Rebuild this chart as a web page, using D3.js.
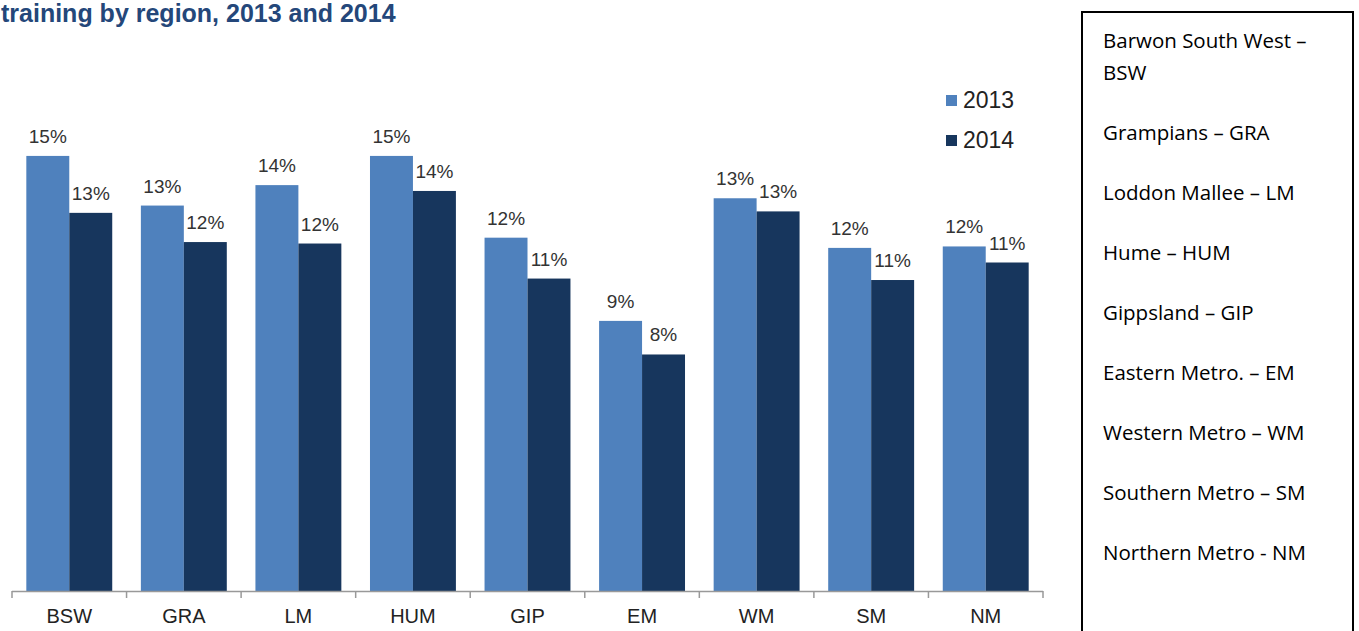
<!DOCTYPE html>
<html lang="en">
<head>
    <meta charset="UTF-8">
    <title>Training by region</title>
    <script src="https://d3js.org/d3.v7.min.js"></script>
    <style>
        body { margin: 0; background: #fff; }
        svg { display: block; }
    </style>
</head>
<body>
<svg id="chart"></svg>
<script>

    // data
    const regions = ["BSW", "GRA", "LM", "HUM", "GIP", "EM", "WM", "SM", "NM"];
    const years = ["2013", "2014"];
    const values2013 = [14.9, 13.2, 13.9, 14.9, 12.1, 9.25, 13.45, 11.75, 11.8];
    const values2014 = [12.95, 11.95, 11.9, 13.7, 10.7, 8.1, 13.0, 10.65, 11.25];
    const regionNames = [
        ["Barwon South West –", "BSW"],
        ["Grampians – GRA"],
        ["Loddon Mallee – LM"],
        ["Hume – HUM"],
        ["Gippsland – GIP"],
        ["Eastern Metro. – EM"],
        ["Western Metro – WM"],
        ["Southern Metro – SM"],
        ["Northern Metro - NM"]
    ];

    const width = 1359, height = 631;
    const font = "Liberation Sans, Arial, sans-serif";
    const colour = d3.scaleOrdinal().domain(years).range(["#4f81bd", "#17365d"]);

    const svg = d3.select("#chart").attr("width", width).attr("height", height);

    svg.append("text")
        .attr("x", 1).attr("y", 22)
        .attr("font-family", font)
        .attr("font-weight", "bold")
        .attr("font-size", 25)
        .attr("fill", "#24477a")
        .text("training by region, 2013 and 2014");

    const baseY = 591;
    const x = d3.scaleBand().domain(regions).range([12, 1043]).paddingInner(0.25).paddingOuter(0.125);
    const x1 = d3.scaleBand().domain(years).range([0, x.bandwidth()]);
    const y = d3.scaleLinear().domain([0, 16]).range([baseY, baseY - 16 * 29.2]);

    const rows = regions.map((r, i) => ({region: r, values: [
        {year: "2013", v: values2013[i]},
        {year: "2014", v: values2014[i]}
    ]}));

    const groups = svg.append("g").selectAll("g")
        .data(rows).join("g")
        .attr("transform", d => `translate(${x(d.region)},0)`);

    groups.selectAll("rect")
        .data(d => d.values).join("rect")
        .attr("x", d => x1(d.year))
        .attr("width", x1.bandwidth())
        .attr("y", d => y(d.v))
        .attr("height", d => baseY - y(d.v))
        .attr("fill", d => colour(d.year));

    groups.selectAll("text")
        .data(d => d.values).join("text")
        .attr("x", d => x1(d.year) + x1.bandwidth() / 2)
        .attr("y", d => y(d.v) - 13)
        .attr("text-anchor", "middle")
        .attr("font-family", font)
        .attr("font-size", 19)
        .attr("fill", "#333")
        .text(d => Math.round(d.v) + "%");

    // category axis with ticks between groups
    const axis = svg.append("g");
    axis.append("line")
        .attr("x1", 12).attr("x2", 1043)
        .attr("y1", baseY + 0.5).attr("y2", baseY + 0.5)
        .attr("stroke", "#999").attr("stroke-width", 1.5);
    const step = x.step();
    const tickXs = d3.range(regions.length + 1).map(i => 12 + i * step);
    axis.selectAll(".tick").data(tickXs).join("line")
        .attr("x1", d => d).attr("x2", d => d)
        .attr("y1", baseY).attr("y2", baseY + 7)
        .attr("stroke", "#999").attr("stroke-width", 1.5);
    axis.selectAll("text").data(regions).join("text")
        .attr("x", d => x(d) + x.bandwidth() / 2)
        .attr("y", 623)
        .attr("text-anchor", "middle")
        .attr("font-family", font)
        .attr("font-size", 20)
        .attr("fill", "#222")
        .text(d => d);

    // legend
    const legend = svg.append("g").attr("transform", "translate(946,0)");
    years.forEach((yr, i) => {
        legend.append("rect")
            .attr("x", 0).attr("y", 95 + i * 40)
            .attr("width", 11).attr("height", 11)
            .attr("fill", colour(yr));
        legend.append("text")
            .attr("x", 17).attr("y", 108 + i * 40)
            .attr("font-family", font)
            .attr("font-size", 23)
            .attr("fill", "#222")
            .text(yr);
    });

    // region name box on the right
    svg.append("rect")
        .attr("x", 1082).attr("y", 12)
        .attr("width", 271).attr("height", 640)
        .attr("fill", "none").attr("stroke", "#000").attr("stroke-width", 2);

    let lineY = 48;
    const box = svg.append("g");
    regionNames.forEach((lines) => {
        lines.forEach((t, j) => {
            box.append("text")
                .attr("x", 1103).attr("y", lineY + j * 32)
                .attr("font-family", "Open Sans, sans-serif")
                .attr("font-size", 20.5)
                .attr("fill", "#000")
                .text(t);
        });
        lineY += (lines.length - 1) * 32 + 60;
    });

</script>
</body>
</html>
